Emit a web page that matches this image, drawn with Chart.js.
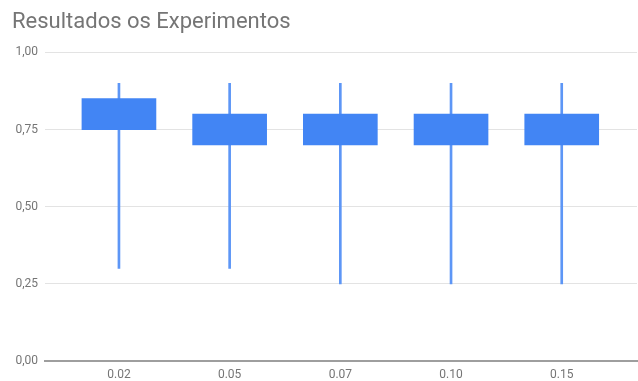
<!DOCTYPE html>
<html>
<head>
<meta charset="utf-8">
<title>Resultados os Experimentos</title>
<script src="https://cdn.jsdelivr.net/npm/chart.js@4/dist/chart.umd.min.js"></script>
<style>
  html, body { margin: 0; padding: 0; background: #ffffff; }
  #wrap { width: 638px; height: 381px; }
</style>
</head>
<body>
<div id="wrap"><canvas id="chart" width="638" height="381"></canvas></div>
<script>
// Candlestick data per experiment
const categories = ['0.02', '0.05', '0.07', '0.10', '0.15'];
const low   = [0.30, 0.30, 0.25, 0.25, 0.25];
const open  = [0.85, 0.80, 0.80, 0.80, 0.80];
const close = [0.75, 0.70, 0.70, 0.70, 0.70];
const high  = [0.90, 0.90, 0.90, 0.90, 0.90];
const yTicks = [0, 0.25, 0.5, 0.75, 1];

const bodies = categories.map((c, i) => ({ x: i, y: [close[i], open[i]] }));
const wicks  = categories.map((c, i) => ({ x: i, y: [low[i], high[i]] }));

const grey = '#757575';

new Chart(document.getElementById('chart'), {
  type: 'bar',
  data: {
    datasets: [
      {
        label: 'corpo',
        data: bodies,
        backgroundColor: '#4285f4',
        borderWidth: 0,
        barThickness: 74,
        grouped: false
      },
      {
        label: 'pavio',
        data: wicks,
        backgroundColor: '#5d96f6',
        borderWidth: 0,
        barThickness: 2,
        grouped: false
      }
    ]
  },
  options: {
    responsive: false,
    animation: false,
    layout: { padding: { left: 12, right: 1, top: 0, bottom: 0 } },
    plugins: {
      legend: { display: false },
      tooltip: { enabled: false },
      title: {
        display: true,
        text: 'Resultados os Experimentos',
        align: 'start',
        color: grey,
        font: { family: 'Roboto', size: 22, weight: 'normal' },
        padding: { top: 9, bottom: 17 }
      }
    },
    scales: {
      x: {
        type: 'linear',
        offset: false,
        min: -0.668,
        max: 4.68,
        afterBuildTicks: (scale) => {
          scale.ticks = categories.map((c, i) => ({ value: i }));
        },
        afterFit: (scale) => { scale.height = 20; },
        ticks: {
          autoSkip: false,
          maxRotation: 0,
          padding: 7,
          color: grey,
          font: { family: 'Roboto', size: 12 },
          callback: (v) => categories[v]
        },
        grid: { display: false, drawTicks: false, offset: false },
        border: { display: true, color: '#9e9e9e', width: 2 }
      },
      y: {
        min: 0,
        max: 1,
        afterBuildTicks: (scale) => {
          scale.ticks = yTicks.map(v => ({ value: v }));
        },
        afterFit: (scale) => { scale.width = 33; },
        ticks: {
          padding: 7,
          color: grey,
          font: { family: 'Roboto', size: 12 },
          callback: (v) => v.toFixed(2).replace('.', ',')
        },
        grid: {
          drawTicks: false,
          color: (ctx) => ctx.tick && ctx.tick.value === 0 ? 'rgba(0,0,0,0)' : '#e3e3e3',
          lineWidth: 1
        },
        border: { display: false }
      }
    }
  }
});
</script>
</body>
</html>
